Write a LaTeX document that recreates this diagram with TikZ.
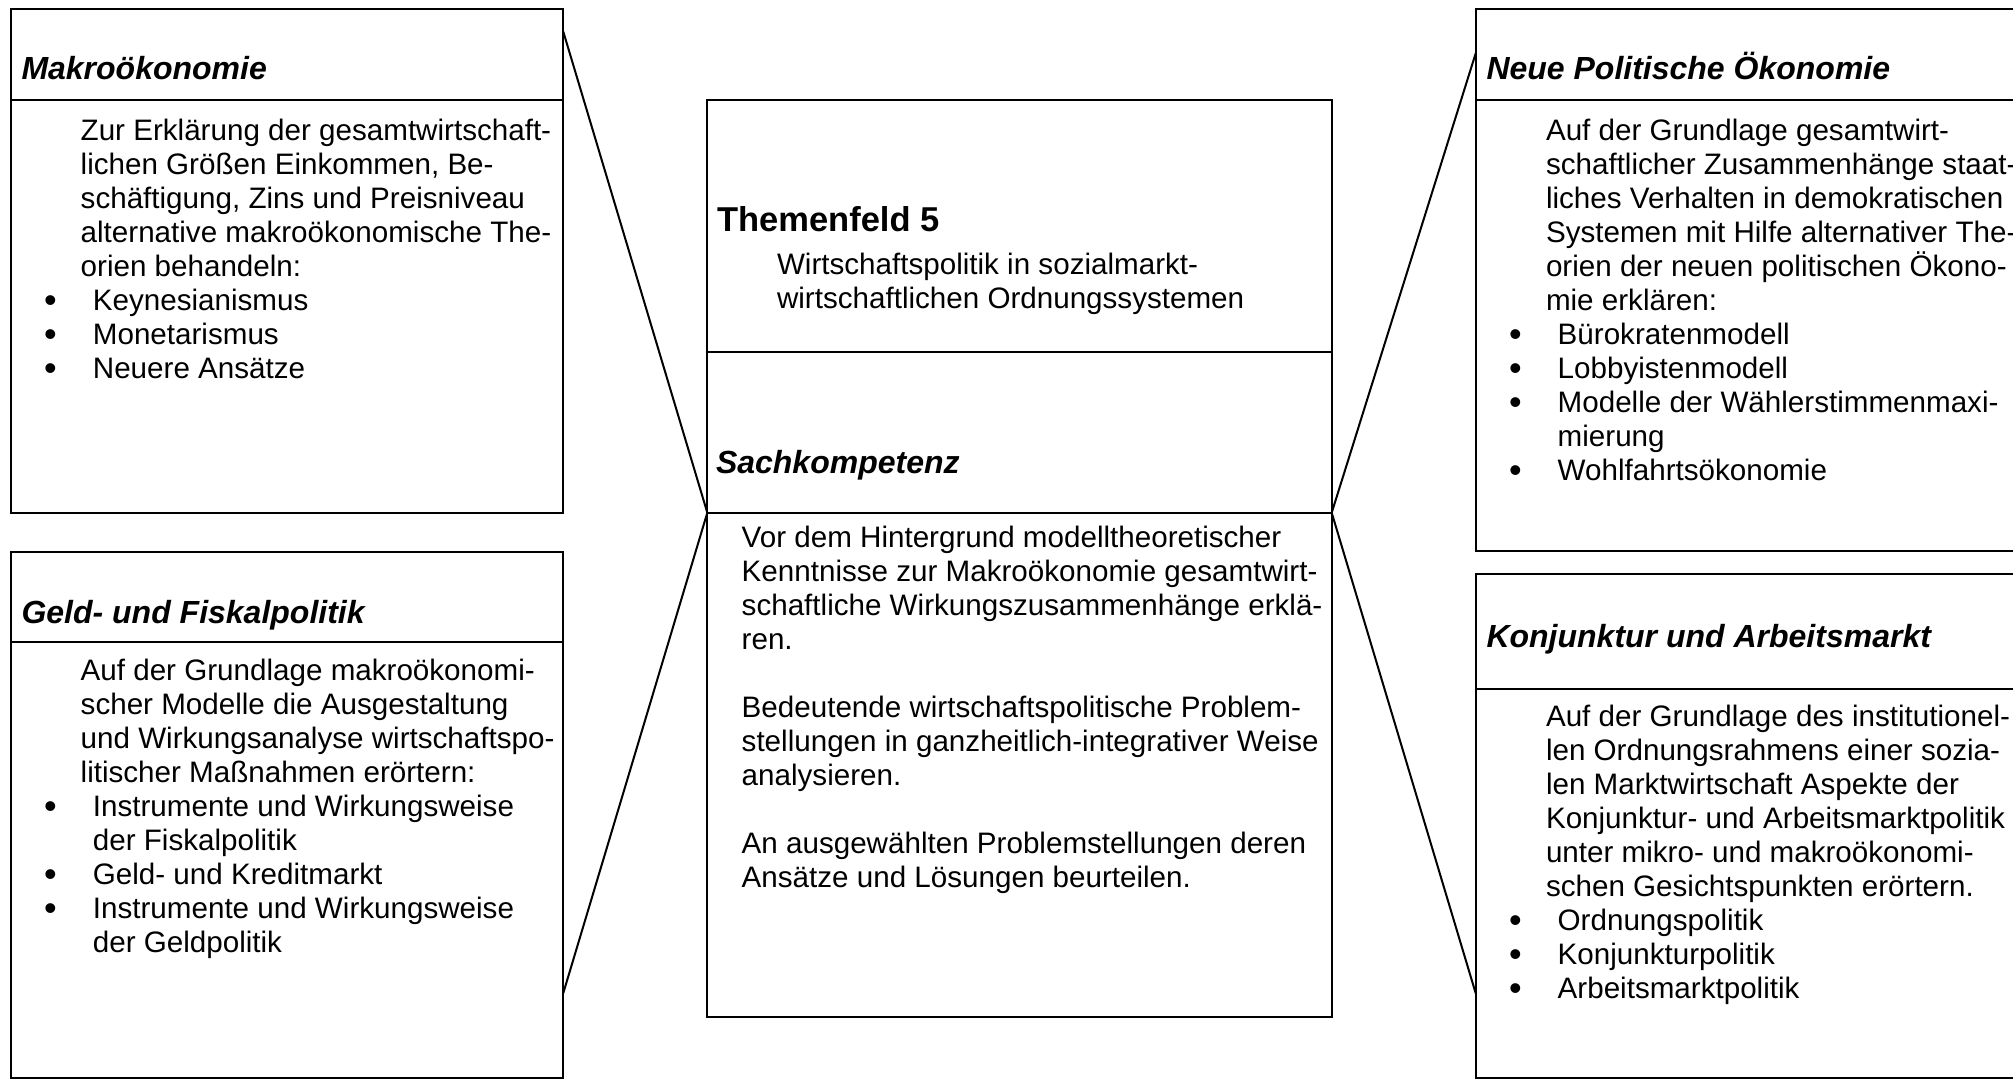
\documentclass[tikz,border=0pt]{standalone}
\usepackage{fontspec}
\setmainfont{Liberation Sans}
\usetikzlibrary{calc}
\newcommand\bfont{\fontsize{29.6pt}{34pt}\selectfont}
\newcommand\tfont{\fontsize{32pt}{36pt}\selectfont}
\newcommand\bl{\leavevmode\llap{\makebox[84.8pt][c]{\raisebox{-1.5pt}{\fontsize{36pt}{34pt}\selectfont\char"2022}}}}
\newcommand\ptext[1]{\parbox[t]{620pt}{\bfont\raggedright #1}}
\begin{document}
\begin{tikzpicture}[x=1pt,y=-1pt,
  box/.style={draw, line width=2pt, inner sep=0pt, outer sep=0pt, anchor=north west},
  rulel/.style={line width=2pt},
  conn/.style={line width=2pt},
  txt/.style={anchor=base west, inner sep=0pt, outer sep=0pt},
  ttl/.style={txt, font=\tfont\bfseries\itshape}]
\useasboundingbox (0,0) rectangle (2013,1080);
\clip (0,0) rectangle (2013,1080);

% boxes
\node[box, minimum width=552.6pt, minimum height=504pt]   (mk) at (10.7,8.7) {};
\node[box, minimum width=552.6pt, minimum height=526.6pt] (gf) at (10.7,551.7) {};
\node[box, minimum width=624.4pt, minimum height=916.7pt] (ct) at (707.3,100) {};
\node[box, minimum width=600pt, minimum height=542.3pt]   (np) at (1475.7,8.7) {};
\node[box, minimum width=600pt, minimum height=504pt]     (ka) at (1475.7,574.3) {};

% header rules
\draw[rulel] ([yshift=-91.3pt]mk.north west) -- ([yshift=-91.3pt]mk.north east);
\draw[rulel] ([yshift=-90.1pt]gf.north west) -- ([yshift=-90.1pt]gf.north east);
\draw[rulel] ([yshift=-251.9pt]ct.north west) -- ([yshift=-251.9pt]ct.north east);
\draw[rulel] ([yshift=-412.7pt]ct.north west) -- ([yshift=-412.7pt]ct.north east);
\draw[rulel] ([yshift=-91.3pt]np.north west) -- ([yshift=-91.3pt]np.north east);
\draw[rulel] ([yshift=-114.6pt]ka.north west) -- ([yshift=-114.6pt]ka.north east);

% connector end points
\coordinate (mkP) at ([yshift=-23pt]mk.north east);
\coordinate (gfP) at ([yshift=-441.3pt]gf.north east);
\coordinate (npP) at ([yshift=-44.6pt]np.north west);
\coordinate (kaP) at ([yshift=-419pt]ka.north west);
\coordinate (ctL) at ([yshift=-412.7pt]ct.north west);
\coordinate (ctR) at ([yshift=-412.7pt]ct.north east);
\draw[conn] (mkP) -- (ctL);
\draw[conn] (gfP) -- (ctL);
\draw[conn] (npP) -- (ctR);
\draw[conn] (kaP) -- (ctR);

% Makrooekonomie
\node[ttl] (mkT) at (21.5,79.6) {Makroökonomie};
\node[txt] (mkB) at (80.7,140.7) {\ptext{Zur Erklärung der gesamtwirtschaft-\\lichen Größen Einkommen, Be-\\schäftigung, Zins und Preisniveau\\alternative makroökonomische The-\\orien behandeln:}};
\node[txt] (mkI) at (92.9,310.7) {\ptext{\bl Keynesianismus\\\bl Monetarismus\\\bl Neuere Ansätze}};

% Geld- und Fiskalpolitik
\node[ttl] (gfT) at (21.5,623) {Geld- und Fiskalpolitik};
\node[txt] (gfB) at (80.7,680.6) {\ptext{Auf der Grundlage makroökonomi-\\scher Modelle die Ausgestaltung\\und Wirkungsanalyse wirtschaftspo-\\litischer Maßnahmen erörtern:}};
\node[txt] (gfI) at (92.9,816.6) {\ptext{\bl Instrumente und Wirkungsweise\\der Fiskalpolitik\\\bl Geld- und Kreditmarkt\\\bl Instrumente und Wirkungsweise\\der Geldpolitik}};

% Center
\node[txt, font=\fontsize{34.5pt}{40pt}\selectfont\bfseries] (ctT) at (717,231) {Themenfeld 5};
\node[txt] (ctS) at (777,274) {\ptext{Wirtschaftspolitik in sozialmarkt-\\wirtschaftlichen Ordnungssystemen}};
\node[ttl] (ctK) at (716,473.3) {Sachkompetenz};
\node[txt] (ctB) at (741.7,547) {\ptext{Vor dem Hintergrund modelltheoretischer\\Kenntnisse zur Makroökonomie gesamtwirt-\\schaftliche Wirkungszusammenhänge erklä-\\ren.\\[34pt]Bedeutende wirtschaftspolitische Problem-\\stellungen in ganzheitlich-integrativer Weise\\analysieren.\\[34pt]An ausgewählten Problemstellungen deren\\Ansätze und Lösungen beurteilen.}};

% Neue Politische Oekonomie
\node[ttl] (npT) at (1486.5,79.6) {Neue Politische Ökonomie};
\node[txt] (npB) at (1546,140.7) {\ptext{Auf der Grundlage gesamtwirt-\\schaftlicher Zusammenhänge staat-\\liches Verhalten in demokratischen\\Systemen mit Hilfe alternativer The-\\orien der neuen politischen Ökono-\\mie erklären:}};
\node[txt] (npI) at (1557.7,344.7) {\ptext{\bl Bürokratenmodell\\\bl Lobbyistenmodell\\\bl Modelle der Wählerstimmenmaxi-\\mierung\\\bl Wohlfahrtsökonomie}};

% Konjunktur und Arbeitsmarkt
\node[ttl] (kaT) at (1486.5,647.2) {Konjunktur und Arbeitsmarkt};
\node[txt] (kaB) at (1546,726.6) {\ptext{Auf der Grundlage des institutionel-\\len Ordnungsrahmens einer sozia-\\len Marktwirtschaft Aspekte der\\Konjunktur- und Arbeitsmarktpolitik\\unter mikro- und makroökonomi-\\schen Gesichtspunkten erörtern.}};
\node[txt] (kaI) at (1557.7,930.6) {\ptext{\bl Ordnungspolitik\\\bl Konjunkturpolitik\\\bl Arbeitsmarktpolitik}};
\end{tikzpicture}
\end{document}
